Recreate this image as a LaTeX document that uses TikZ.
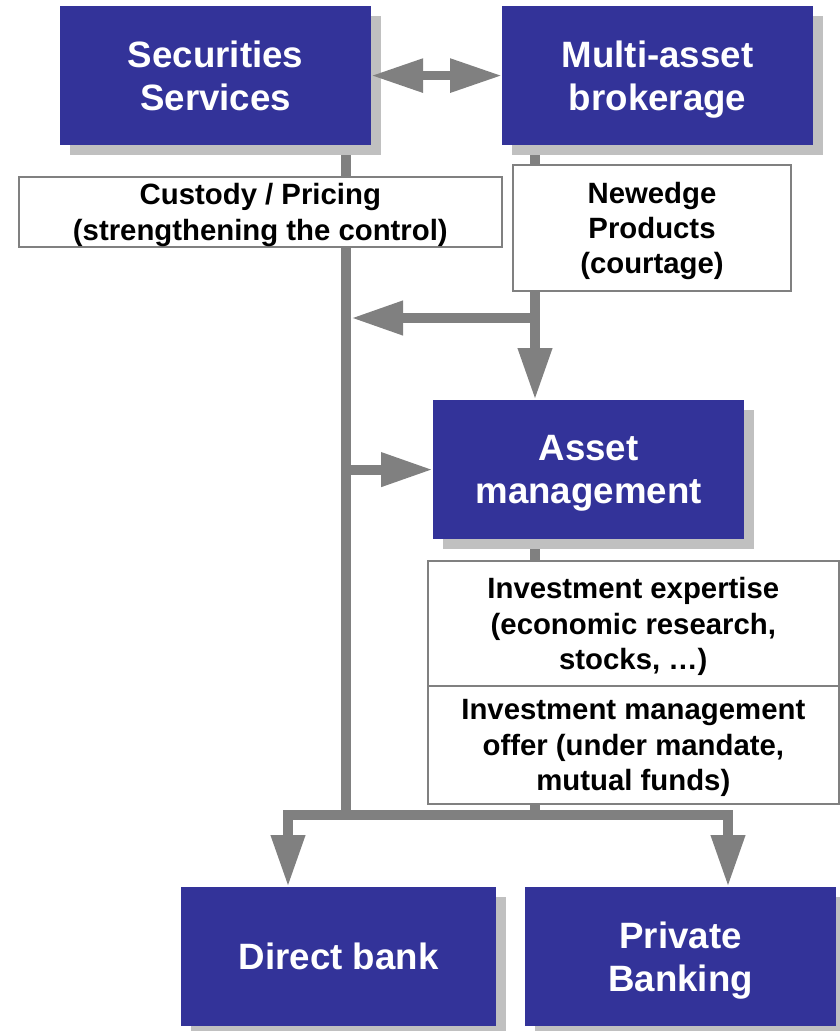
\documentclass[tikz,border=0pt]{standalone}
\usepackage{fontspec}
\setmainfont{Liberation Sans}
\usepackage{tikz}
\usetikzlibrary{arrows.meta,shadows,backgrounds}

\definecolor{boxblue}{HTML}{333399}
\definecolor{shadowgray}{HTML}{C0C0C0}
\definecolor{bargray}{HTML}{808080}

\tikzset{
  unit/.style={anchor=north west, fill=boxblue, text=white, inner sep=0pt,
    align=center, text depth=0pt, font=\bfseries\fontsize{27.5}{32}\selectfont,
    minimum width=233pt, minimum height=104pt,
    drop shadow={shadow xshift=7.5pt, shadow yshift=-7.5pt, fill=shadowgray, opacity=1}},
  note/.style={anchor=north west, fill=white, draw=bargray, line width=1.5pt,
    inner sep=0pt, align=center, text=black, text depth=0pt,
    font=\bfseries\fontsize{22}{26.5}\selectfont},
  bar/.style={draw=bargray, line width=7.5pt},
  bighead/.tip={Triangle[width=24pt,length=39pt]}
}

\begin{document}
\begin{tikzpicture}[x=0.75pt,y=0.75pt,yscale=-1,xscale=1]

\useasboundingbox (0,0) rectangle (839,1031);

% business lines
\node[unit] (secur) at (60,6) {Securities\\Services};
\node[unit] (multi) at (502,6) {Multi-asset\\brokerage};
\node[unit] (asset) at (433,400) {Asset\\management};
\node[unit, minimum width=236pt] (direct) at (181,887) {Direct bank};
\node[unit] (private) at (525,887) {Private\\Banking};

% what is shared
\node[note, minimum width=362pt, minimum height=52.5pt] (custody) at (18,176)
  {Custody / Pricing\\(strengthening the control)};
\node[note, minimum width=208.5pt, minimum height=94.5pt] (newedge) at (512,164)
  {Newedge\\Products\\(courtage)};
\node[note, minimum width=308pt, minimum height=93.75pt] (expert) at (427,560)
  {Investment expertise\\(economic research,\\stocks, \dots)};
\node[note, minimum width=308pt, minimum height=88.5pt] (offer) at (427,685)
  {Investment management\\offer (under mandate,\\mutual funds)};

% junctions
\coordinate (tb) at (346,815);
\coordinate (bj) at (535,318);
\coordinate (mo) at (535,815);
\coordinate (dl) at (288,815);
\coordinate (pr) at (728,815);

\draw[bar, line width=6.75pt, bighead-bighead] (secur.east) -- (multi.west);

\begin{scope}[on background layer]
\draw[bar] (secur.south -| tb) -- (tb);
\draw[bar] (multi.south -| bj) -- (bj);
\draw[bar,-bighead] (bj) -- (asset.north -| bj);
\draw[bar,-bighead] (bj) -- ([xshift=3.75pt]bj -| tb);
\draw[bar,-bighead] (asset.west -| tb) -- (asset.west);
\draw[bar] (asset.south -| mo) -- (mo);
\draw[bar,bighead-bighead] (direct.north -| dl) -- (dl) -- (pr) -- (private.north -| pr);
\end{scope}

\end{tikzpicture}
\end{document}
